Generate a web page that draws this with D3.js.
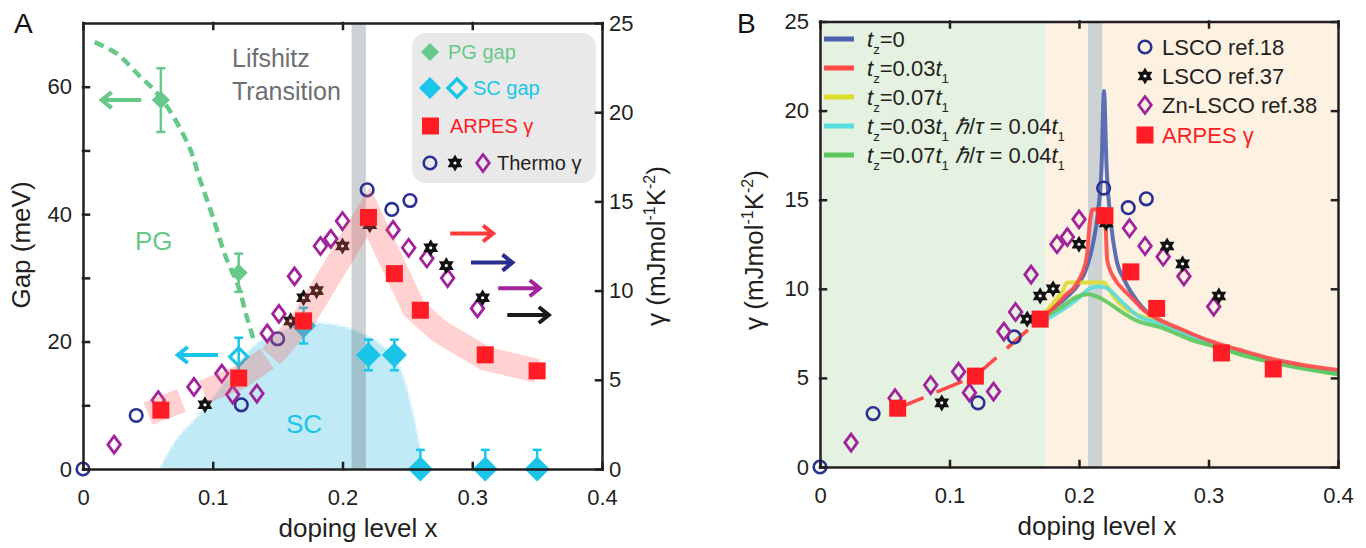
<!DOCTYPE html>
<html lang="en">
<head>
<meta charset="utf-8"/>
<script src="https://d3js.org/d3.v7.min.js"></script>
<style>
  body { margin: 0; background: #fff; }
  svg text { font-family: "Liberation Sans", Arial, sans-serif; }
  .axis path, .axis line { stroke: #231f20; stroke-width: 2.5; stroke-linecap: square; }
  .axis text { font-size: 22px; fill: #231f20; }
</style>
</head>
<body>
<svg id="chart" width="1366" height="548"></svg>
<script>
// ---- data ----
const xTicks = [0, 0.1, 0.2, 0.3, 0.4];
const gapTicks = [0, 10, 20, 30, 40, 50, 60];
const gammaTicks = [0, 5, 10, 15, 20, 25];

// thermodynamic gamma
const ref18X = [0, 0.041, 0.122, 0.15, 0.219, 0.238, 0.252];
const ref18G = [0, 3.0, 3.6, 7.3, 15.65, 14.55, 15.05];
const ref37X = [0.094, 0.16, 0.17, 0.18, 0.2, 0.221, 0.268, 0.28, 0.308];
const ref37G = [3.6, 8.3, 9.6, 10.0, 12.5, 13.7, 12.4, 11.4, 9.6];
const ref38X = [0.024, 0.058, 0.0855, 0.107, 0.1154, 0.134, 0.142, 0.151, 0.163, 0.183, 0.191, 0.2, 0.239, 0.251, 0.265, 0.281, 0.304];
const ref38G = [1.37, 3.86, 4.6, 5.35, 4.17, 4.23, 7.6, 8.7, 10.8, 12.5, 12.9, 13.9, 13.4, 12.4, 11.8, 10.7, 9.0];

// ARPES gamma
const arpesX = [0.06, 0.12, 0.17, 0.22, 0.24, 0.26, 0.31, 0.35];
const arpesG = [3.3, 5.1, 8.3, 14.1, 10.95, 8.9, 6.4, 5.5];

// ARPES guide band (panel A)
const bandLowX = [0.05, 0.12, 0.15];
const bandLowG = [3.1, 5.1, 6.6];
const bandHighX = [0.145, 0.17, 0.22, 0.24, 0.255, 0.275, 0.31, 0.35];
const bandHighG = [6.3, 8.4, 14.4, 11.3, 9.0, 7.7, 6.2, 5.5];

// gaps (meV)
const pgX = [0.06, 0.12];
const pgGap = [57.9, 30.8];
const pgErr = [5, 3];
const scX = [0.17, 0.22, 0.24, 0.26, 0.31, 0.35];
const scGap = [22.5, 17.9, 17.9, 0, 0, 0];
const scErrUp = [2.8, 2.4, 2.4, 3, 3, 3];
const scErrDown = [2.8, 2.4, 2.4, 0, 0, 0];
const scOpenX = [0.12];
const scOpenGap = [17.6];
const scOpenErr = [3];

// PG guide line and SC dome
const pgLineX = [0.009, 0.026, 0.044, 0.057, 0.07, 0.083, 0.09, 0.1, 0.11, 0.12, 0.126, 0.132];
const pgLineGap = [67, 65.2, 61.6, 59, 55.2, 50, 45.5, 39.6, 33.3, 28.5, 24, 20];
const domeX = [0.059, 0.07, 0.088, 0.11, 0.13, 0.155, 0.175, 0.195, 0.215, 0.23, 0.244, 0.252, 0.258, 0.262];
const domeGap = [0, 4, 8.2, 13.8, 19, 21.8, 23, 22.6, 21.3, 19.5, 16.1, 10.8, 5.1, 0];

// Lifshitz transition band
const lifshitzX = [0.207, 0.218];
// panel B region split
const regionSplit = 0.174;

// axis arrows in panel A: [x start, x end, value]
const gapArrowX1 = [0.045, 0.104];
const gapArrowX2 = [0.0144, 0.073];
const gapArrowV = [57.9, 17.9];
const gamArrowX1 = [0.283, 0.299, 0.320, 0.327];
const gamArrowX2 = [0.316, 0.331, 0.352, 0.359];
const gamArrowV = [13.2, 11.57, 10.13, 8.63];

// model curves (panel B)
const tz0X = [0.17, 0.18, 0.19, 0.2, 0.206, 0.211, 0.2145, 0.2175, 0.2193, 0.2212, 0.2245, 0.229, 0.235, 0.245, 0.26, 0.28, 0.3, 0.325, 0.35, 0.375, 0.4];
const tz0G = [8.3, 8.9, 9.5, 10.3, 11.2, 12.6, 14.2, 17.0, 21.1, 17.0, 13.8, 11.6, 10.5, 9.3, 8.25, 7.6, 7.0, 6.4, 5.9, 5.55, 5.25];
const tz003X = [0.17, 0.18, 0.189, 0.2, 0.206, 0.2085, 0.2105, 0.2185, 0.2205, 0.2218, 0.228, 0.235, 0.242, 0.25, 0.26, 0.28, 0.3, 0.325, 0.35, 0.375, 0.4];
const tz003G = [8.3, 8.9, 9.6, 10.5, 11.8, 13.8, 14.45, 14.45, 13.5, 11.6, 10.5, 9.9, 9.4, 8.8, 8.35, 7.7, 7.1, 6.55, 6.05, 5.7, 5.45];
const tz007X = [0.17, 0.1776, 0.1875, 0.191, 0.219, 0.2266, 0.234, 0.245, 0.26, 0.28, 0.3, 0.325, 0.35, 0.375, 0.4];
const tz007G = [8.3, 9.0, 9.9, 10.35, 10.35, 9.57, 9.0, 8.55, 8.2, 7.55, 6.95, 6.4, 5.9, 5.55, 5.25];
const tz003tauX = [0.17, 0.1828, 0.198, 0.208, 0.216, 0.2214, 0.234, 0.245, 0.26, 0.28, 0.3, 0.325, 0.35, 0.375, 0.4];
const tz003tauG = [8.1, 8.63, 9.38, 10.0, 10.13, 10.04, 9.2, 8.5, 8.1, 7.5, 6.95, 6.4, 5.9, 5.55, 5.25];
const tz007tauX = [0.17, 0.187, 0.198, 0.207, 0.216, 0.225, 0.234, 0.245, 0.2625, 0.288, 0.3, 0.325, 0.35, 0.375, 0.4];
const tz007tauG = [8.3, 9.0, 9.55, 9.7, 9.5, 9.1, 8.65, 8.2, 7.85, 7.1, 6.85, 6.3, 5.85, 5.5, 5.2];

const curveLabels = ["t_z=0", "t_z=0.03t_1", "t_z=0.07t_1", "t_z=0.03t_1 ℏ/τ = 0.04t_1", "t_z=0.07t_1 ℏ/τ = 0.04t_1"];
const legendBLabels = ["LSCO ref.18", "LSCO ref.37", "Zn-LSCO ref.38", "ARPES γ"];

// ---- styles ----
const cNavy = "#2b3191", cPurple = "#a0239c", cRed = "#ff1c24", cCyan = "#1bc5ea", cGreen = "#66c98a";
const curveColors = ["#4a62ad", "#ff4848", "#dcdc2c", "#5adcdc", "#5cc85c"];
const arrowColors = ["#ff3b3b", "#2a2e8f", "#a0249c", "#1a1a1a"];

const svg = d3.select("#chart");

const xA = d3.scaleLinear().domain([0, 0.4]).range([83, 602]);
const gapA = d3.scaleLinear().domain([0, 70]).range([469, 23]);
const gamA = d3.scaleLinear().domain([0, 25]).range([469, 23]);
const xB = d3.scaleLinear().domain([0, 0.4]).range([820, 1338]);
const gamB = d3.scaleLinear().domain([0, 25]).range([467, 21.5]);

const idx = n => d3.range(n);

function starPath(R) {
  const r = R / Math.sqrt(3);
  const pts = d3.range(12).map(i => {
    const a = -Math.PI / 2 + i * Math.PI / 6, q = i % 2 ? r : R;
    return [q * Math.cos(a), q * Math.sin(a)];
  });
  return "M" + pts.join("L") + "Z";
}
function diamondPath(w, h) { return `M0,${-h}L${w},0L0,${h}L${-w},0Z`; }

function drawCircles(g, xs, ys, x, y) {
  g.selectAll(null).data(idx(xs.length)).join("circle")
    .attr("cx", i => x(xs[i])).attr("cy", i => y(ys[i])).attr("r", 6.3)
    .attr("fill", "none").attr("stroke", cNavy).attr("stroke-width", 2.6);
}
function drawDiamonds(g, xs, ys, x, y) {
  g.selectAll(null).data(idx(xs.length)).join("path")
    .attr("transform", i => `translate(${x(xs[i])},${y(ys[i])})`)
    .attr("d", diamondPath(6.3, 8.5))
    .attr("fill", "none").attr("stroke", cPurple).attr("stroke-width", 2.8);
}
function drawStars(g, xs, ys, x, y) {
  const s = g.selectAll(null).data(idx(xs.length)).join("g")
    .attr("transform", i => `translate(${x(xs[i])},${y(ys[i])})`);
  s.append("path").attr("d", starPath(8.6)).attr("fill", "#111");
  s.append("circle").attr("r", 1.6).attr("fill", "#fff");
}
function drawSquares(g, xs, ys, x, y) {
  g.selectAll(null).data(idx(xs.length)).join("rect")
    .attr("x", i => x(xs[i]) - 8.5).attr("y", i => y(ys[i]) - 8.5)
    .attr("width", 17).attr("height", 17).attr("fill", cRed);
}
function errBars(g, xs, ys, up, down, x, y, color) {
  idx(xs.length).forEach(i => {
    const cx = x(xs[i]), y1 = y(ys[i] + up[i]), y0 = y(ys[i] - down[i]);
    g.append("line").attr("x1", cx).attr("x2", cx).attr("y1", y1).attr("y2", y0)
      .attr("stroke", color).attr("stroke-width", 2.5);
    g.append("line").attr("x1", cx - 4.5).attr("x2", cx + 4.5).attr("y1", y1).attr("y2", y1)
      .attr("stroke", color).attr("stroke-width", 2.5);
    if (down[i] > 0)
      g.append("line").attr("x1", cx - 4.5).attr("x2", cx + 4.5).attr("y1", y0).attr("y2", y0)
        .attr("stroke", color).attr("stroke-width", 2.5);
  });
}
function arrow(g, x1, x2, yy, color) {
  const dir = x2 > x1 ? 1 : -1;
  g.append("path")
    .attr("d", `M${x1},${yy}H${x2}M${x2 - dir * 10},${yy - 8}L${x2},${yy}L${x2 - dir * 10},${yy + 8}`)
    .attr("fill", "none").attr("stroke", color).attr("stroke-width", 4);
}
// t_z, t_1 style labels: '_' marks a one-character subscript, t / ℏ / τ italic
function richText(text, str, size) {
  let mode = 0; // 0 normal, 1 subscript next, 2 come back up
  for (const ch of str) {
    if (ch === "_") { mode = 1; continue; }
    const ts = text.append("tspan").text(ch);
    if ("tℏτ".includes(ch)) ts.attr("font-style", "italic");
    if (mode === 1) { ts.attr("font-size", size * 0.6).attr("dy", 7); mode = 2; }
    else if (mode === 2) { ts.attr("dy", -7); mode = 0; }
  }
}
function gammaTitle(g, cx, cy) {
  const t = g.append("text").attr("transform", `translate(${cx},${cy}) rotate(-90)`)
    .attr("text-anchor", "middle").attr("font-size", 26).attr("fill", "#231f20");
  t.append("tspan").text("γ (mJmol");
  t.append("tspan").text("-1").attr("font-size", 16).attr("dy", -10);
  t.append("tspan").text("K").attr("dy", 10);
  t.append("tspan").text("-2").attr("font-size", 16).attr("dy", -10);
  t.append("tspan").text(")").attr("dy", 10);
}
const fmtX = d => d === 0 ? "0" : d3.format(".1f")(d);

// =================== Panel A ===================
const A = svg.append("g");

A.append("path")
  .attr("d", d3.area().x(i => xA(domeX[i])).y0(gapA(0)).y1(i => gapA(domeGap[i]))
    .curve(d3.curveMonotoneX)(idx(domeX.length)))
  .attr("fill", "#bfeaf6").attr("stroke", "#dff5fb").attr("stroke-width", 2.5)
  .attr("stroke-dasharray", "6,5");

A.append("rect").attr("x", xA(lifshitzX[0])).attr("width", xA(lifshitzX[1]) - xA(lifshitzX[0]))
  .attr("y", gapA.range()[1]).attr("height", gapA.range()[0] - gapA.range()[1])
  .attr("fill", "rgba(75,90,97,0.27)");

A.append("path")
  .attr("d", d3.line().x(i => xA(pgLineX[i])).y(i => gapA(pgLineGap[i]))
    .curve(d3.curveCatmullRom)(idx(pgLineX.length)))
  .attr("fill", "none").attr("stroke", cGreen).attr("stroke-width", 4.5).attr("stroke-dasharray", "10,6");

errBars(A, pgX, pgGap, pgErr, pgErr, xA, gapA, cGreen);
A.selectAll(null).data(idx(pgX.length)).join("path")
  .attr("transform", i => `translate(${xA(pgX[i])},${gapA(pgGap[i])})`)
  .attr("d", diamondPath(9, 9)).attr("fill", cGreen);

errBars(A, scX, scGap, scErrUp, scErrDown, xA, gapA, cCyan);
A.selectAll(null).data(idx(scX.length)).join("path")
  .attr("transform", i => `translate(${xA(scX[i])},${gapA(scGap[i])})`)
  .attr("d", diamondPath(12.5, 12.5)).attr("fill", cCyan);
errBars(A, scOpenX, scOpenGap, scOpenErr, scOpenErr, xA, gapA, cCyan);
A.selectAll(null).data(idx(scOpenX.length)).join("path")
  .attr("transform", i => `translate(${xA(scOpenX[i])},${gapA(scOpenGap[i])})`)
  .attr("d", diamondPath(9, 9)).attr("fill", "none").attr("stroke", cCyan).attr("stroke-width", 3.2);

drawCircles(A, ref18X, ref18G, xA, gamA);
drawDiamonds(A, ref38X, ref38G, xA, gamA);
drawStars(A, ref37X, ref37G, xA, gamA);

const bandLine = d3.line().x(i => xA(bandHighX[i])).y(i => gamA(bandHighG[i]));
A.append("path")
  .attr("d", d3.line().x(i => xA(bandLowX[i])).y(i => gamA(bandLowG[i]))(idx(bandLowX.length)))
  .attr("fill", "none").attr("stroke", "rgba(255,90,90,0.28)").attr("stroke-width", 24)
  .attr("stroke-dasharray", "36,24,72,40");
A.append("path").attr("d", bandLine(idx(bandHighX.length)))
  .attr("fill", "none").attr("stroke", "rgba(255,90,90,0.28)").attr("stroke-width", 24)
  .attr("stroke-linejoin", "miter");

drawSquares(A, arpesX, arpesG, xA, gamA);

idx(gapArrowX1.length).forEach(i =>
  arrow(A, xA(gapArrowX1[i]), xA(gapArrowX2[i]), gapA(gapArrowV[i]), [cGreen, cCyan][i]));
idx(gamArrowX1.length).forEach(i =>
  arrow(A, xA(gamArrowX1[i]), xA(gamArrowX2[i]), gamA(gamArrowV[i]), arrowColors[i]));

A.append("text").attr("x", 232).attr("y", 67).attr("font-size", 25).attr("fill", "#6d6e71").text("Lifshitz");
A.append("text").attr("x", 232).attr("y", 100).attr("font-size", 25).attr("fill", "#6d6e71").text("Transition");
A.append("text").attr("x", 135).attr("y", 250).attr("font-size", 26).attr("fill", cGreen).text("PG");
A.append("text").attr("x", 286).attr("y", 433).attr("font-size", 26).attr("fill", cCyan).text("SC");

// legend A
const LA = A.append("g");
LA.append("rect").attr("x", 412).attr("y", 33).attr("width", 184).attr("height", 150).attr("rx", 14)
  .attr("fill", "#e9e9e9");
LA.append("path").attr("transform", "translate(430,52)").attr("d", diamondPath(9, 9)).attr("fill", cGreen);
LA.append("path").attr("transform", "translate(430,88)").attr("d", diamondPath(11, 11)).attr("fill", cCyan);
LA.append("path").attr("transform", "translate(457,88)").attr("d", diamondPath(9, 9))
  .attr("fill", "none").attr("stroke", cCyan).attr("stroke-width", 3.5);
LA.append("rect").attr("x", 422).attr("y", 117.5).attr("width", 17).attr("height", 17).attr("fill", cRed);
LA.append("circle").attr("cx", 430).attr("cy", 163).attr("r", 6.3).attr("fill", "none")
  .attr("stroke", cNavy).attr("stroke-width", 2.6);
LA.append("g").attr("transform", "translate(455,163)").call(s => {
  s.append("path").attr("d", starPath(8.6)).attr("fill", "#111");
  s.append("circle").attr("r", 1.6).attr("fill", "#fff");
});
LA.append("path").attr("transform", "translate(483,163)").attr("d", diamondPath(6.3, 8.5))
  .attr("fill", "none").attr("stroke", cPurple).attr("stroke-width", 2.8);
[["PG gap", 448, 52, cGreen], ["SC gap", 473, 88, cCyan], ["ARPES γ", 450, 126, cRed], ["Thermo γ", 497, 163, "#231f20"]]
  .forEach(([t, x, y, c]) => LA.append("text").attr("x", x).attr("y", y).attr("dy", "0.36em")
    .attr("font-size", 20).attr("fill", c).text(t));

// axes A
A.append("g").attr("class", "axis").attr("transform", `translate(0,${gapA(0)})`)
  .call(d3.axisBottom(xA).tickValues(xTicks).tickSize(-6).tickSizeOuter(0).tickPadding(20).tickFormat(fmtX));
A.append("g").attr("class", "axis").attr("transform", `translate(0,${gapA.range()[1]})`)
  .call(d3.axisTop(xA).tickValues(xTicks).tickSize(-6).tickSizeOuter(0).tickFormat(""));
A.append("g").attr("class", "axis").attr("transform", `translate(${xA(0)},0)`)
  .call(d3.axisLeft(gapA).tickValues(gapTicks).tickSize(-6).tickSizeOuter(0).tickPadding(11)
    .tickFormat(d => d % 20 === 0 ? d : ""));
A.append("g").attr("class", "axis").attr("transform", `translate(${xA(0.4)},0)`)
  .call(d3.axisRight(gamA).tickValues(gammaTicks).tickSize(-6).tickSizeOuter(0).tickPadding(7));

A.append("text").attr("x", 358).attr("y", 537).attr("text-anchor", "middle").attr("font-size", 26)
  .attr("fill", "#231f20").text("doping level x");
A.append("text").attr("transform", "translate(30,245) rotate(-90)").attr("text-anchor", "middle")
  .attr("font-size", 26).attr("fill", "#231f20").text("Gap (meV)");
gammaTitle(A, 665, 246);
A.append("text").attr("x", 14).attr("y", 33).attr("font-size", 28).attr("fill", "#111").text("A");

// =================== Panel B ===================
const B = svg.append("g");
B.append("rect").attr("x", xB(0)).attr("width", xB(regionSplit) - xB(0))
  .attr("y", gamB.range()[1]).attr("height", gamB.range()[0] - gamB.range()[1]).attr("fill", "#e5f2e1");
B.append("rect").attr("x", xB(regionSplit)).attr("width", xB(0.4) - xB(regionSplit))
  .attr("y", gamB.range()[1]).attr("height", gamB.range()[0] - gamB.range()[1]).attr("fill", "#fdf1e1");
B.append("rect").attr("x", xB(lifshitzX[0])).attr("width", xB(lifshitzX[1]) - xB(lifshitzX[0]))
  .attr("y", gamB.range()[1]).attr("height", gamB.range()[0] - gamB.range()[1]).attr("fill", "#cdd2d5");

B.append("path")
  .attr("d", d3.line().x(i => xB(arpesX[i])).y(i => gamB(arpesG[i]))(idx(3)))
  .attr("fill", "none").attr("stroke", "#ff4848").attr("stroke-width", 3.5).attr("stroke-dasharray", "28,14");

const modelX = [tz0X, tz003X, tz007X, tz003tauX, tz007tauX];
const modelG = [tz0G, tz003G, tz007G, tz003tauG, tz007tauG];
[0, 2, 3, 4, 1].forEach(k => {
  B.append("path")
    .attr("d", d3.line().x(i => xB(modelX[k][i])).y(i => gamB(modelG[k][i]))
      .curve(d3.curveMonotoneX)(idx(modelX[k].length)))
    .attr("fill", "none").attr("stroke", curveColors[k]).attr("stroke-width", 4)
    .attr("stroke-opacity", 0.9).attr("stroke-linejoin", "round");
});

drawCircles(B, ref18X, ref18G, xB, gamB);
drawDiamonds(B, ref38X, ref38G, xB, gamB);
drawStars(B, ref37X, ref37G, xB, gamB);
drawSquares(B, arpesX, arpesG, xB, gamB);

// legend B (curves)
curveLabels.forEach((lab, k) => {
  const yy = 39 + k * 29;
  B.append("line").attr("x1", 824).attr("x2", 854).attr("y1", yy).attr("y2", yy)
    .attr("stroke", curveColors[k]).attr("stroke-width", 5);
  const t = B.append("text").attr("x", 867).attr("y", yy + 8).attr("font-size", 22).attr("fill", "#231f20");
  richText(t, lab, 22);
});
// legend B (markers)
const LB = B.append("g");
LB.append("circle").attr("cx", 1145).attr("cy", 47).attr("r", 6.3).attr("fill", "none")
  .attr("stroke", cNavy).attr("stroke-width", 2.6);
LB.append("g").attr("transform", "translate(1145,76)").call(s => {
  s.append("path").attr("d", starPath(8.6)).attr("fill", "#111");
  s.append("circle").attr("r", 1.6).attr("fill", "#fff");
});
LB.append("path").attr("transform", "translate(1145,105)").attr("d", diamondPath(6.3, 8.5))
  .attr("fill", "none").attr("stroke", cPurple).attr("stroke-width", 2.8);
LB.append("rect").attr("x", 1136.5).attr("y", 126.5).attr("width", 17).attr("height", 17).attr("fill", cRed);
legendBLabels.forEach((lab, k) => {
  LB.append("text").attr("x", 1162).attr("y", [47, 76, 105, 135][k]).attr("dy", "0.36em")
    .attr("font-size", 22).attr("fill", k === 3 ? cRed : "#231f20").text(lab);
});

// axes B
B.append("g").attr("class", "axis").attr("transform", `translate(0,${gamB(0)})`)
  .call(d3.axisBottom(xB).tickValues(xTicks).tickSize(-6).tickSizeOuter(0).tickPadding(20).tickFormat(fmtX));
B.append("g").attr("class", "axis").attr("transform", `translate(0,${gamB.range()[1]})`)
  .call(d3.axisTop(xB).tickValues(xTicks).tickSize(-6).tickSizeOuter(0).tickFormat(""));
B.append("g").attr("class", "axis").attr("transform", `translate(${xB(0)},0)`)
  .call(d3.axisLeft(gamB).tickValues(gammaTicks).tickSize(-6).tickSizeOuter(0).tickPadding(11));
B.append("g").attr("class", "axis").attr("transform", `translate(${xB(0.4)},0)`)
  .call(d3.axisRight(gamB).tickValues(gammaTicks).tickSize(-6).tickSizeOuter(0).tickFormat(""));

B.append("text").attr("x", 1097).attr("y", 535).attr("text-anchor", "middle").attr("font-size", 26)
  .attr("fill", "#231f20").text("doping level x");
gammaTitle(B, 763, 250);
B.append("text").attr("x", 737).attr("y", 33).attr("font-size", 28).attr("fill", "#111").text("B");
</script>
</body>
</html>
